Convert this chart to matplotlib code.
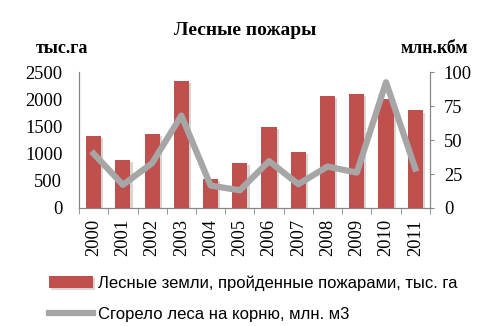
import matplotlib
matplotlib.use("Agg")
import matplotlib.pyplot as plt
import matplotlib.patheffects as pe

years = ["2000", "2001", "2002", "2003", "2004", "2005",
         "2006", "2007", "2008", "2009", "2010", "2011"]
burned_area = [1320, 885, 1360, 2335, 537, 835, 1482, 1024, 2055, 2098, 2006, 1793]
burned_wood = [40, 17, 33, 68, 16.5, 13, 34.5, 17.5, 30.5, 26, 92.5, 29]

bar_color = "#C0504D"
line_color = "#A6A6A6"
axis_color = "#868686"
serif = "Liberation Serif"

fig = plt.figure(figsize=(4.97, 3.26), dpi=100)
ax = fig.add_axes([0.159, 0.362, 0.706, 0.417])
ax2 = ax.twinx()

x = list(range(len(years)))
bars = ax.bar(x, burned_area, width=0.52, color=bar_color, zorder=2,
              label="Лесные земли, пройденные пожарами, тыс. га")
for b in bars:
    b.set_path_effects([pe.SimplePatchShadow(offset=(1.5, -1.5), shadow_rgbFace="#bbbbbb", alpha=0.6),
                        pe.Normal()])
line, = ax2.plot(x, burned_wood, color=line_color, lw=4.5, solid_joinstyle="round",
                 label="Сгорело леса на корню, млн. м3")

ax.set_xlim(-0.5, len(years) - 0.5)
ax.set_ylim(0, 2500)
ax.set_yticks(range(0, 2501, 500))
ax2.set_ylim(0, 100)
ax2.set_yticks(range(0, 101, 25))

ax.set_xticks(x)
ax.set_xticklabels(years, rotation=90, family=serif, fontsize=13.3)
ax.set_xticks([i - 0.5 for i in range(len(years) + 1)], minor=True)
ax.tick_params(axis="x", which="major", length=0, pad=8)
ax.tick_params(axis="x", which="minor", length=4, color=axis_color)
ax.tick_params(axis="y", length=0, labelsize=13.3, pad=12)
ax2.tick_params(axis="y", length=3, color=axis_color, labelsize=13.3, pad=7)
for lab in ax.get_yticklabels() + ax2.get_yticklabels():
    lab.set_family(serif)

for a in (ax, ax2):
    a.spines["top"].set_visible(False)
    for s in ("left", "right", "bottom"):
        a.spines[s].set_color(axis_color)

fig.text(0.493, 0.905, "Лесные пожары", ha="center", va="center",
         family=serif, fontsize=14, fontweight="bold")
fig.text(0.072, 0.85, "тыс.га", ha="left", va="center",
         family=serif, fontsize=13, fontweight="bold")
fig.text(0.942, 0.85, "млн.кбм", ha="right", va="center",
         family=serif, fontsize=13, fontweight="bold")

leg = fig.legend(handles=[bars, line], loc="upper left", bbox_to_anchor=(0.099, 0.155),
                 frameon=False, prop={"family": "Liberation Sans", "size": 12},
                 handlelength=2.6, handletextpad=0.3, labelspacing=0.95,
                 borderaxespad=0, borderpad=0)

fig.savefig("out.png", dpi=100)
